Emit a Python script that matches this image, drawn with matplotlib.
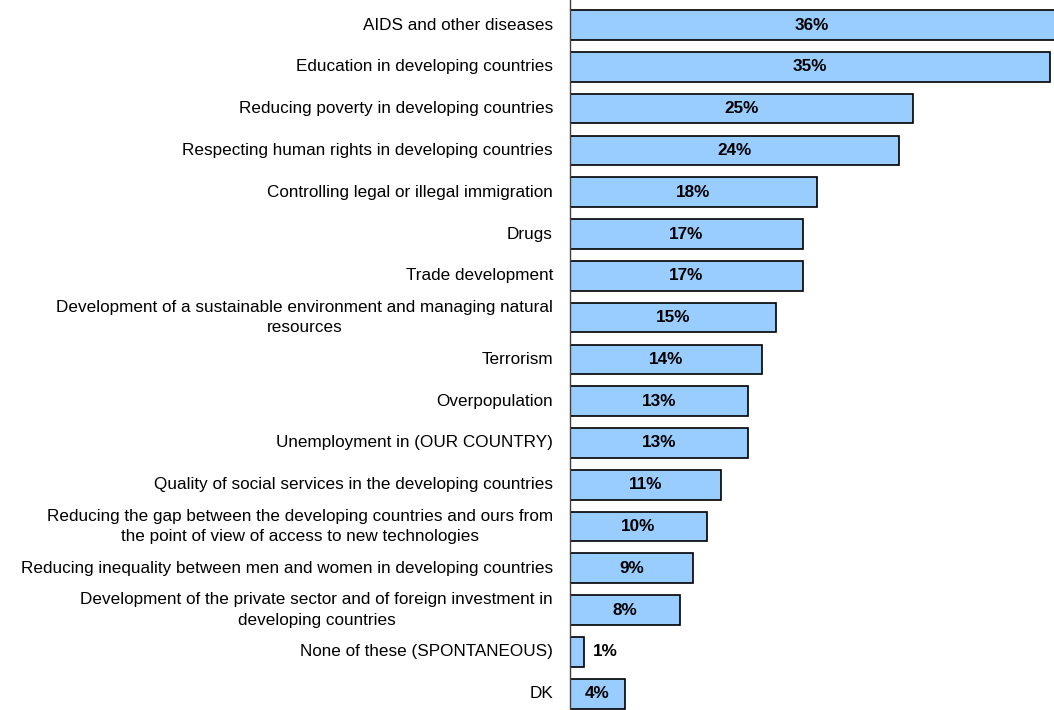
import matplotlib.pyplot as plt

plt.rcParams['font.family'] = ['Liberation Sans', 'DejaVu Sans']

# Issues and share of respondents (%)
issues = [
    'AIDS and other diseases',
    'Education in developing countries',
    'Reducing poverty in developing countries',
    'Respecting human rights in developing countries',
    'Controlling legal or illegal immigration',
    'Drugs',
    'Trade development',
    'Development of a sustainable environment and managing natural\nresources',
    'Terrorism',
    'Overpopulation',
    'Unemployment in (OUR COUNTRY)',
    'Quality of social services in the developing countries',
    'Reducing the gap between the developing countries and ours from\nthe point of view of access to new technologies',
    'Reducing inequality between men and women in developing countries',
    'Development of the private sector and of foreign investment in\ndeveloping countries',
    'None of these (SPONTANEOUS)',
    'DK',
]
shares = [36, 35, 25, 24, 18, 17, 17, 15, 14, 13, 13, 11, 10, 9, 8, 1, 4]

fig = plt.figure(figsize=(10.54, 7.10), dpi=100)
ax = fig.add_axes([570 / 1054, 0, 484 / 1054, 1])

pos = list(range(len(issues)))
ax.barh(pos, shares, height=0.71, color='#99CCFF', edgecolor='black', linewidth=1.2)

xmax = 35.3
ax.set_xlim(0, xmax)
ax.set_ylim(16.39, -0.6)

for y, v in zip(pos, shares):
    if v < 3:
        ax.text(v + 0.65, y, f'{v}%', ha='left', va='center',
                fontsize=12.3, fontweight='bold')
    else:
        ax.text(min(v, xmax) / 2, y, f'{v}%', ha='center', va='center',
                fontsize=12.3, fontweight='bold')

# category labels, right-aligned against the axis
for y, name in zip(pos, issues):
    ax.annotate(name, xy=(0, y), xycoords=('axes fraction', 'data'),
                xytext=(-17, 0), textcoords='offset pixels',
                ha='right', va='center', multialignment='center',
                fontsize=12.3, linespacing=1.45)

ax.set_xticks([])
ax.set_yticks([])
for side in ['top', 'right', 'bottom']:
    ax.spines[side].set_visible(False)
ax.spines['left'].set_color('#404040')
ax.spines['left'].set_linewidth(1)

fig.savefig('out.png', dpi=100)
